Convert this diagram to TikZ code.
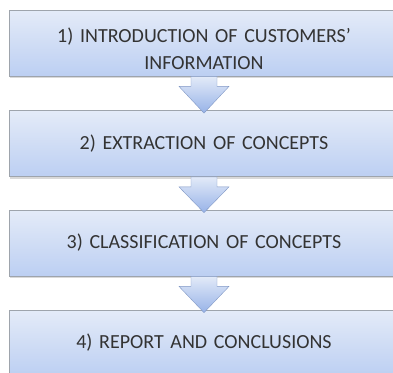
\documentclass[tikz,border=0pt]{standalone}
\usepackage{fontspec}
\setmainfont{Carlito}
\usetikzlibrary{shadows,calc}

\definecolor{boxtop}{HTML}{E4EBF8}
\definecolor{boxbot}{HTML}{BCCFF2}
\definecolor{boxline}{HTML}{9EA4AC}
\definecolor{arrtop}{HTML}{E2EAF8}
\definecolor{arrbot}{HTML}{98B3E8}
\definecolor{txtgray}{HTML}{333333}

\tikzset{
  stepbox/.style={draw=boxline,line width=0.8pt,top color=boxtop,bottom color=boxbot,
    minimum width=390pt,minimum height=66pt,text width=370pt,align=center,inner sep=0pt,
    font=\fontsize{20}{27}\selectfont,text=txtgray,
    drop shadow={opacity=0.3,shadow xshift=1pt,shadow yshift=-2pt}},
  blockarrow/.style={draw=arrbot!85!black,line width=0.4pt,top color=arrtop,bottom color=arrbot,
    to path={let \p1=(\tikztostart), \p2=(\tikztotarget) in
      (\x1-13pt,\y1) -- (\x1+13pt,\y1) -- (\x1+13pt,\y1-10pt) -- (\x1+25pt,\y1-10pt)
      -- (\x2,\y2-3pt) -- (\x1-25pt,\y1-10pt) -- (\x1-13pt,\y1-10pt) -- cycle}}
}

\begin{document}
\begin{tikzpicture}[x=1pt,y=1pt]
    \useasboundingbox (0,0) rectangle (393,-372);
    \clip (0,0) rectangle (393,-372);

    \node[stepbox] (intro) at (204,-43) {\rule{0pt}{26pt}1) INTRODUCTION OF CUSTOMERS’\\INFORMATION};
    \node[stepbox] (extract) at (204,-143.5) {2) EXTRACTION OF CONCEPTS};
    \node[stepbox] (classify) at (204,-243) {3) CLASSIFICATION OF CONCEPTS};
    \node[stepbox] (report) at (204,-343) {4) REPORT AND CONCLUSIONS};

    \draw[blockarrow] (intro.south) to (extract.north);
    \draw[blockarrow] (extract.south) to (classify.north);
    \draw[blockarrow] (classify.south) to (report.north);
\end{tikzpicture}
\end{document}
